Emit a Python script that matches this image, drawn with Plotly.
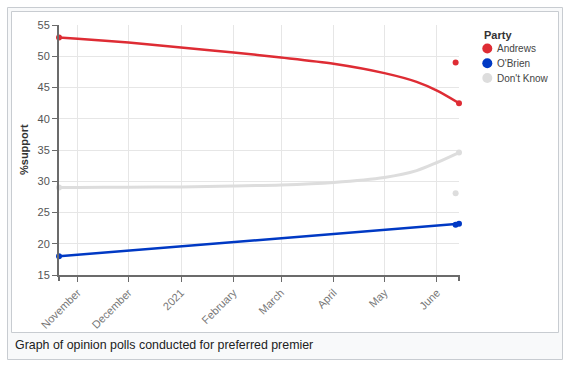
import plotly.graph_objects as go

# ---- data ----
poll_dates = ["2020-10-21", "2021-06-12", "2021-06-14"]
andrews = [53.0, 49.0, 42.5]
obrien = [18.0, 23.05, 23.2]
dont_know = [29.0, 28.1, 34.6]

trend_dates = ["2020-10-21", "2020-11-01", "2020-12-01", "2021-01-01", "2021-02-01",
               "2021-03-01", "2021-04-01", "2021-05-01", "2021-05-20",
               "2021-06-01", "2021-06-14"]
andrews_trend = [53.0, 52.8, 52.2, 51.4, 50.6, 49.8, 48.8, 47.3, 45.9, 44.5, 42.5]
dont_know_trend = [29.0, 29.0, 29.05, 29.1, 29.25, 29.4, 29.8, 30.6, 31.7, 33.0, 34.6]
obrien_trend_dates = ["2020-10-21", "2021-06-14"]
obrien_trend = [18.0, 23.2]

tick_dates = ["2020-11-01", "2020-12-01", "2021-01-01", "2021-02-01",
              "2021-03-01", "2021-04-01", "2021-05-01", "2021-06-01"]
tick_labels = ["November", "December", "2021", "February", "March", "April", "May", "June"]

parties = ["Andrews", "O'Brien", "Don't Know"]
colors = ["#DE2C34", "#0039C4", "#DDDDDD"]

FONT = "Liberation Sans, Arial, sans-serif"

# plot area in pixels
L, R, T, B = 59, 459, 25, 275
W, H = 583, 373


def px(x):
    return (x - L) / (R - L)


def py(y):
    return (B - y) / (B - T)


fig = go.Figure()

trend_sets = [(trend_dates, andrews_trend, 2.5),
              (obrien_trend_dates, obrien_trend, 2.5),
              (trend_dates, dont_know_trend, 3)]
poll_sets = [andrews, obrien, dont_know]

for name, col, (td, tv, lw), pv in zip(parties, colors, trend_sets, poll_sets):
    fig.add_trace(go.Scatter(x=td, y=tv, mode="lines", name=name,
                             line=dict(color=col, width=lw, shape="spline", smoothing=0.8),
                             showlegend=False, hoverinfo="skip"))
    fig.add_trace(go.Scatter(x=poll_dates, y=pv, mode="markers", name=name,
                             marker=dict(color=col, size=6),
                             showlegend=False, cliponaxis=False))

AX = "#6b6b6b"
shapes = [
    # outer thumbnail box
    dict(type="rect", xref="paper", yref="paper", layer="below",
         x0=px(7.5), x1=px(562.5), y0=py(359.5), y1=py(7.5),
         fillcolor="#f8f9fa", line=dict(color="#c8ccd1", width=1)),
    # inner image box
    dict(type="rect", xref="paper", yref="paper", layer="below",
         x0=px(11.5), x1=px(558.5), y0=py(332.5), y1=py(11.5),
         fillcolor="#ffffff", line=dict(color="#c8ccd1", width=1)),
    # x-axis domain end caps
    dict(type="line", xref="paper", yref="paper", x0=px(59), x1=px(59),
         y0=py(275), y1=py(281), line=dict(color=AX, width=2)),
    dict(type="line", xref="paper", yref="paper", x0=px(459), x1=px(459),
         y0=py(275), y1=py(281), line=dict(color=AX, width=2)),
]

annotations = [
    dict(text="Graph of opinion polls conducted for preferred premier",
         xref="paper", yref="paper", x=px(13), y=py(345), xanchor="left", yanchor="middle",
         showarrow=False, font=dict(family=FONT, size=12.4, color="#202122")),
    dict(text="<b>%support</b>", xref="paper", yref="paper", x=px(24), y=py(150),
         xanchor="center", yanchor="middle", textangle=-90, showarrow=False,
         font=dict(family=FONT, size=11, color="#333333")),
    dict(text="<b>Party</b>", xref="paper", yref="paper", x=px(482), y=py(35),
         xanchor="left", yanchor="middle", showarrow=False,
         font=dict(family=FONT, size=11, color="#333333")),
]

legend_y = [48.5, 63.3, 78.0]
for name, col, ly in zip(parties, colors, legend_y):
    shapes.append(dict(type="circle", xref="paper", yref="paper",
                       x0=px(482.3), x1=px(492.3), y0=py(ly + 5), y1=py(ly - 5),
                       fillcolor=col, line=dict(width=0)))
    annotations.append(dict(text=name, xref="paper", yref="paper", x=px(495), y=py(ly),
                            xanchor="left", yanchor="middle", showarrow=False,
                            font=dict(family=FONT, size=10, color="#444444")))

fig.update_layout(
    width=W, height=H,
    margin=dict(l=L, r=W - R, t=T, b=H - B, pad=0),
    paper_bgcolor="#ffffff",
    plot_bgcolor="rgba(0,0,0,0)",
    font=dict(family=FONT, size=11, color="#555555"),
    showlegend=False,
    shapes=shapes,
    annotations=annotations,
    xaxis=dict(type="date", range=["2020-10-21", "2021-06-14"],
               tickvals=tick_dates, ticktext=tick_labels, tickangle=-45,
               showgrid=True, gridcolor="#e6e6e6", gridwidth=1,
               showline=True, linecolor=AX, linewidth=2,
               ticks="outside", ticklen=5, tickcolor=AX, tickwidth=1,
               tickfont=dict(family=FONT, size=11, color="#777777"),
               zeroline=False, fixedrange=True),
    yaxis=dict(range=[15, 55], tick0=15, dtick=5,
               showgrid=True, gridcolor="#e6e6e6", gridwidth=1,
               showline=True, linecolor=AX, linewidth=2,
               ticks="outside", ticklen=5, tickcolor=AX, tickwidth=1,
               tickfont=dict(family=FONT, size=11, color="#555555"),
               zeroline=False, fixedrange=True),
)

fig.write_html("out.html", config={"displayModeBar": False},
               post_script="document.body.style.margin='0';document.body.style.overflow='hidden';")
